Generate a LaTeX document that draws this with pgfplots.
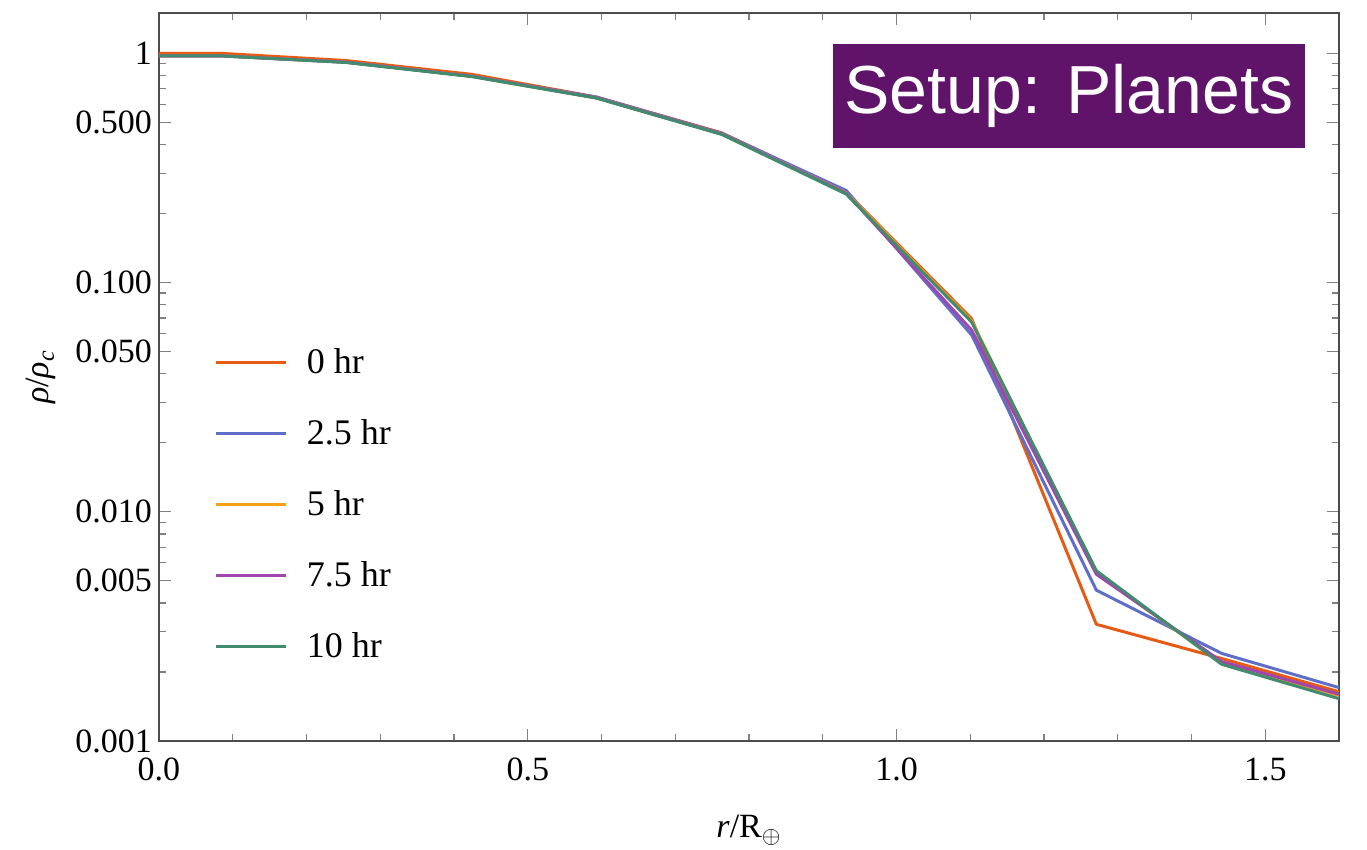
\documentclass[border=0pt]{standalone}
\usepackage{pgfplots}
\pgfplotsset{compat=1.18}
\usepackage{fontspec}
\setmainfont{Liberation Serif}
\newfontfamily\boxfont{Liberation Sans}
\definecolor{cOrange}{RGB}{230,90,20}
\definecolor{cBlue}{RGB}{95,110,200}
\definecolor{cYellow}{RGB}{245,160,20}
\definecolor{cPurple}{RGB}{160,70,175}
\definecolor{cGreen}{RGB}{65,140,110}
\definecolor{boxPurple}{RGB}{95,20,105}
\begin{document}
\begin{tikzpicture}
\useasboundingbox (-79.5pt,-54.5pt) rectangle (604pt,370.5pt);
\begin{axis}[
  at={(0,0)}, anchor=south west,
  scale only axis, width=590pt, height=364pt,
  ymode=log, xmin=0, xmax=1.6, ymin=0.001, ymax=1.5,
  xtick={0,0.5,1,1.5}, xticklabels={0.0,0.5,1.0,1.5},
  minor xtick={0.1,0.2,0.3,0.4,0.6,0.7,0.8,0.9,1.1,1.2,1.3,1.4},
  ytick={0.001,0.005,0.01,0.05,0.1,0.5,1},
  yticklabels={0.001,0.005,0.010,0.050,0.100,0.500,1},
  minor ytick={0.002,0.003,0.004,0.006,0.007,0.008,0.009,0.02,0.03,0.04,0.06,0.07,0.08,0.09,0.2,0.3,0.4,0.6,0.7,0.8,0.9},
  tick align=inside, major tick length=6pt, minor tick length=3.5pt,
  tick style={gray, line width=0.6pt},
  axis line style={black!70, line width=0.7pt},
  ticklabel style={font=\fontsize{17}{20}\selectfont},
  xticklabel style={yshift=-5pt},
  /pgf/number format/assume math mode=true,
  xlabel={\textit{r}/R$_{\oplus}$}, ylabel={\textit{ρ}/\textit{ρ}\textsubscript{\textit{c}}},
  label style={font=\fontsize{17}{20}\selectfont},
  xlabel style={at={(0.5,-0.133)}, anchor=base},
  ylabel style={at={(-0.10,0.5)}, anchor=center},
  legend style={draw=none, fill=none, at={(0.042,0.551)}, anchor=north west,
    font=\fontsize{18}{20}\selectfont, row sep=17.5pt,
    legend cell align=left},
  legend image code/.code={\draw[#1, line width=1.5pt] (0pt,0pt) -- (35pt,0pt);},
  every axis plot/.append style={line width=1.5pt, line join=round},
]
\addplot[cOrange] coordinates {(0,1.0) (0.085,1.0) (0.254,0.93) (0.424,0.81) (0.593,0.645) (0.763,0.45) (0.932,0.248) (1.102,0.0695) (1.271,0.00323) (1.441,0.00229) (1.6,0.00164)};
\addlegendentry{\hspace{7.5pt}0 hr}
\addplot[cBlue] coordinates {(0,0.975) (0.085,0.975) (0.254,0.915) (0.424,0.795) (0.593,0.645) (0.763,0.448) (0.932,0.252) (1.102,0.059) (1.271,0.00455) (1.441,0.00241) (1.6,0.00171)};
\addlegendentry{\hspace{7.5pt}2.5 hr}
\addplot[cYellow] coordinates {(0,0.975) (0.085,0.975) (0.254,0.915) (0.424,0.795) (0.593,0.64) (0.763,0.445) (0.932,0.246) (1.102,0.068) (1.271,0.0054) (1.441,0.00218) (1.6,0.00158)};
\addlegendentry{\hspace{7.5pt}5 hr}
\addplot[cPurple] coordinates {(0,0.975) (0.085,0.975) (0.254,0.915) (0.424,0.795) (0.593,0.64) (0.763,0.445) (0.932,0.245) (1.102,0.062) (1.271,0.00534) (1.441,0.00222) (1.6,0.0016)};
\addlegendentry{\hspace{7.5pt}7.5 hr}
\addplot[cGreen] coordinates {(0,0.975) (0.085,0.975) (0.254,0.912) (0.424,0.792) (0.593,0.638) (0.763,0.443) (0.932,0.243) (1.102,0.0672) (1.271,0.00553) (1.441,0.00216) (1.6,0.00153)};
\addlegendentry{\hspace{7.5pt}10 hr}
\node[fill=boxPurple, text=white, minimum width=236pt, minimum height=52pt, inner sep=0pt,
  font=\boxfont\fontsize{34}{36}\selectfont] at (rel axis cs:0.771,0.886) {Setup: Planets};
\end{axis}
\end{tikzpicture}
\end{document}
